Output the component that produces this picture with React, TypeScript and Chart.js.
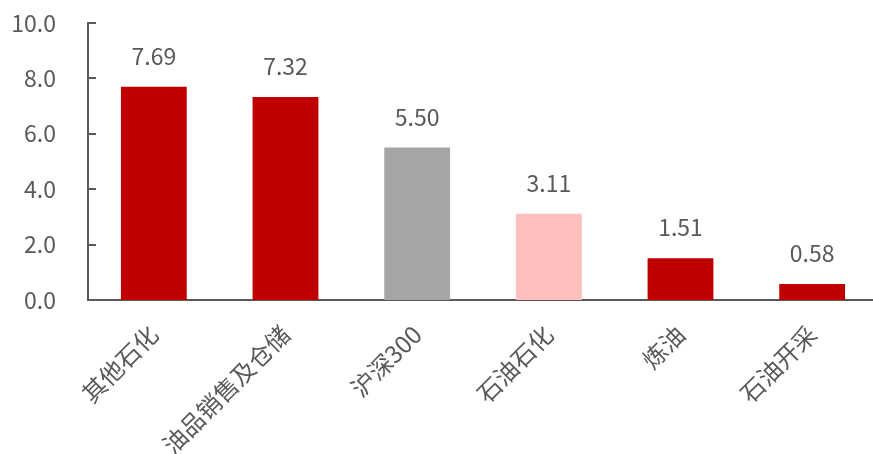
import React, { useEffect, useRef } from "react";
import { Chart, registerables } from "chart.js";
Chart.register(...registerables);

const categories = ["其他石化", "油品销售及仓储", "沪深300", "石油石化", "炼油", "石油开采"];
const values = [7.69, 7.32, 5.5, 3.11, 1.51, 0.58];
const barColors = ["#C00000", "#C00000", "#A5A5A5", "#FFBFBF", "#C00000", "#C00000"];
const yMin = 0;
const yMax = 10;
const yStep = 2;

const FONT = "'Noto Sans CJK SC', 'Noto Sans', sans-serif";
const TEXT = "#595959";

const innerTicks = {
  id: "innerTicks",
  afterDraw(chart: any) {
    const y = chart.scales.y;
    const ctx = chart.ctx;
    ctx.save();
    ctx.strokeStyle = TEXT;
    ctx.lineWidth = 2;
    y.ticks.forEach((t: any) => {
      const py = Math.round(y.getPixelForValue(t.value));
      ctx.beginPath();
      ctx.moveTo(chart.chartArea.left, py);
      ctx.lineTo(chart.chartArea.left + 8, py);
      ctx.stroke();
    });
    ctx.restore();
  },
};

const valueLabels = {
  id: "valueLabels",
  afterDatasetsDraw(chart: any) {
    const ctx = chart.ctx;
    const meta = chart.getDatasetMeta(0);
    ctx.save();
    ctx.fillStyle = TEXT;
    ctx.font = `23px ${FONT}`;
    ctx.textAlign = "center";
    ctx.textBaseline = "alphabetic";
    meta.data.forEach((bar: any, i: number) => {
      ctx.fillText(values[i].toFixed(2), bar.x, bar.y - 22);
    });
    ctx.restore();
  },
};

export default function App() {
  const ref = useRef<HTMLCanvasElement | null>(null);
  useEffect(() => {
    if (!ref.current) return;
    const chart = new Chart(ref.current, {
      type: "bar",
      data: {
        labels: categories,
        datasets: [
          {
            data: values,
            backgroundColor: barColors,
            barPercentage: 0.5,
            categoryPercentage: 1,
          },
        ],
      },
      options: {
        animation: false,
        responsive: false,
        layout: { padding: { top: 1, right: 2, left: 0, bottom: 0 } },
        plugins: { legend: { display: false }, tooltip: { enabled: false } },
        scales: {
          x: {
            grid: { display: false, drawTicks: false },
            border: { display: true, color: TEXT, width: 2 },
            ticks: {
              color: TEXT,
              font: { family: FONT, size: 24 },
              maxRotation: 45,
              minRotation: 45,
              padding: 20,
              autoSkip: false,
            },
            afterFit: (s: any) => {
              s.height = 154;
            },
          },
          y: {
            min: yMin,
            max: yMax,
            grid: { display: false, drawTicks: false },
            border: { display: true, color: TEXT, width: 2 },
            ticks: {
              stepSize: yStep,
              color: TEXT,
              font: { family: FONT, size: 23 },
              padding: 32,
              callback: (v: any) => Number(v).toFixed(1),
            },
            afterFit: (s: any) => {
              s.width = 88;
            },
          },
        },
      },
      plugins: [innerTicks, valueLabels],
    });
    return () => chart.destroy();
  }, []);
  return (
    <div style={{ position: "absolute", left: 0, top: 0, width: 873, height: 454, overflow: "hidden", background: "#fff" }}>
      <canvas ref={ref} width={880} height={477} style={{ display: "block", position: "absolute", left: 0, top: -23 }} />
    </div>
  );
}
